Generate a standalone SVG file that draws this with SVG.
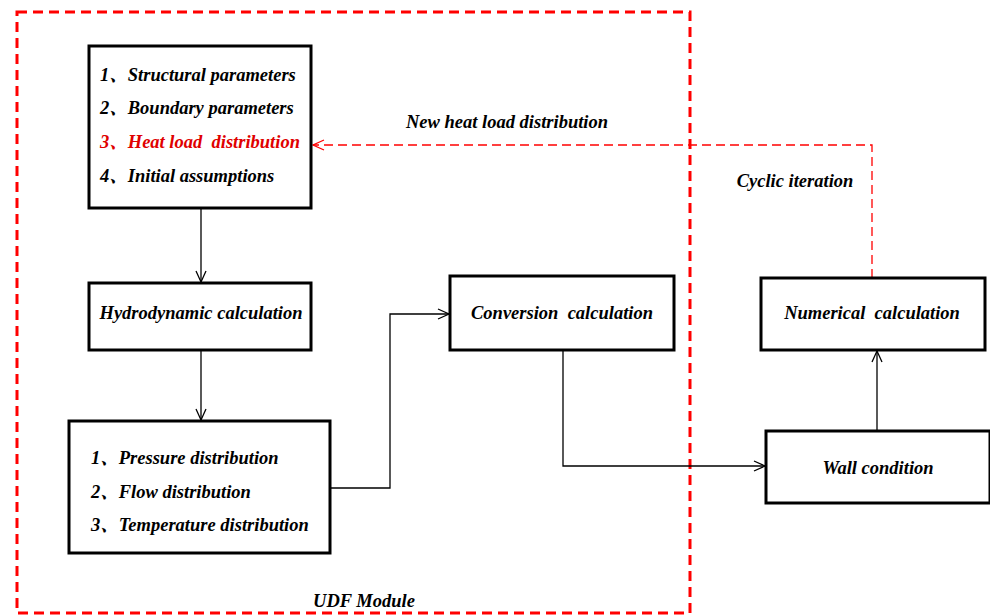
<svg xmlns="http://www.w3.org/2000/svg" width="990" height="616" viewBox="0 0 990 616">
<style>
.box{fill:#fff;stroke:#000;stroke-width:3}
.t{font-family:"Liberation Serif","Noto Serif CJK SC","Noto Sans CJK SC",serif;font-size:18.5px;font-weight:bold;font-style:italic;fill:#000;white-space:pre}
.red{fill:#e00000}
.c{stroke:#000;stroke-width:1.3;fill:none}
.rd{stroke:#ff0000;stroke-width:1.3;fill:none;stroke-dasharray:9 5}
</style>
<defs>
<marker id="ah" markerWidth="14" markerHeight="14" refX="12" refY="6" orient="auto" markerUnits="userSpaceOnUse">
<path d="M1,1 L12,6 L1,11" fill="none" stroke="#000" stroke-width="1.3"/>
</marker>
<marker id="ahr" markerWidth="14" markerHeight="14" refX="12" refY="6" orient="auto" markerUnits="userSpaceOnUse">
<path d="M1,1 L12,6 L1,11" fill="none" stroke="#ff0000" stroke-width="1.3"/>
</marker>
</defs>
<rect x="0" y="0" width="990" height="616" fill="#fff"/>
<rect id="udf-module" x="17" y="12" width="673" height="601" fill="none" stroke="#ff0000" stroke-width="3" stroke-dasharray="10 6"/>
<g id="connectors">
<line class="c" x1="201" y1="208" x2="201" y2="282" marker-end="url(#ah)"/>
<line class="c" x1="201" y1="350" x2="201" y2="420" marker-end="url(#ah)"/>
<polyline class="c" points="330,488 390,488 390,314 449,314" marker-end="url(#ah)"/>
<polyline class="c" points="563,350 563,466 765,466" marker-end="url(#ah)"/>
<line class="c" x1="877" y1="431" x2="877" y2="351" marker-end="url(#ah)"/>
<polyline class="rd" points="872,278 872,145 313,145" marker-end="url(#ahr)"/>
</g>
<g id="inputs">
<rect class="box" x="89" y="46" width="222" height="162"/>
<text class="t" x="100" y="81">1、Structural parameters</text>
<text class="t" x="100" y="114">2、Boundary parameters</text>
<text class="t red" x="100" y="148">3、Heat load  distribution</text>
<text class="t" x="100" y="182">4、Initial assumptions</text>
</g>
<g id="hydro">
<rect class="box" x="89" y="283" width="222" height="67"/>
<text class="t" x="201" y="319" text-anchor="middle">Hydrodynamic calculation</text>
</g>
<g id="distributions">
<rect class="box" x="69" y="421" width="261" height="132"/>
<text class="t" x="91" y="464">1、Pressure distribution</text>
<text class="t" x="91" y="498">2、Flow distribution</text>
<text class="t" x="91" y="531">3、Temperature distribution</text>
</g>
<g id="conversion">
<rect class="box" x="450" y="276" width="224" height="74"/>
<text class="t" x="562" y="319" text-anchor="middle">Conversion  calculation</text>
</g>
<g id="numerical">
<rect class="box" x="761" y="278" width="224" height="72"/>
<text class="t" x="872" y="319" text-anchor="middle">Numerical  calculation</text>
</g>
<g id="wall">
<rect class="box" x="766" y="431" width="224" height="72"/>
<text class="t" x="878" y="474" text-anchor="middle">Wall condition</text>
</g>
<text class="t" x="507" y="128" text-anchor="middle">New heat load distribution</text>
<text class="t" x="795" y="187" text-anchor="middle">Cyclic iteration</text>
<text class="t" x="364" y="607" text-anchor="middle">UDF Module</text>
</svg>
